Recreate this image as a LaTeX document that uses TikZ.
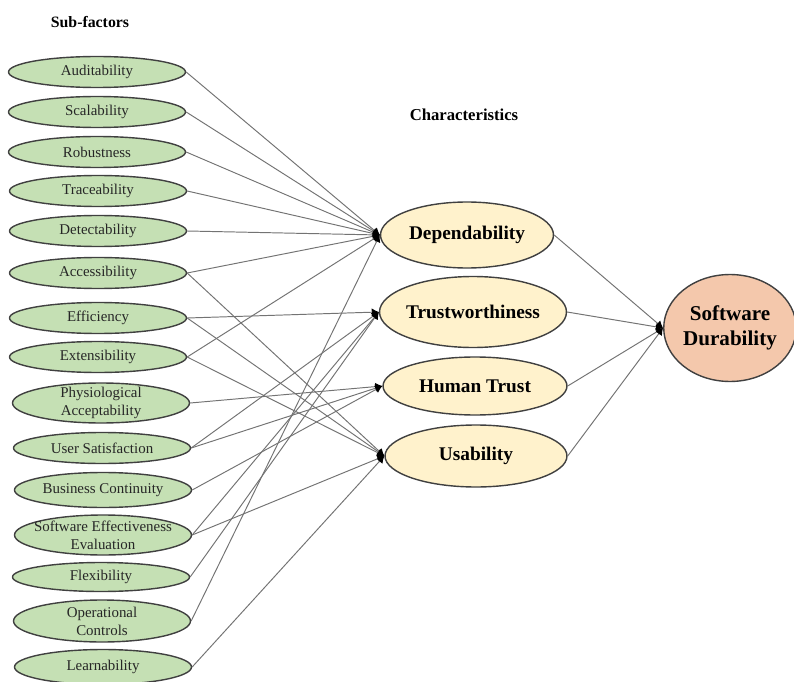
\documentclass[tikz,border=0pt]{standalone}
\usepackage{fontspec}
\setmainfont{Liberation Serif}
\usetikzlibrary{shapes.geometric, arrows.meta}
\definecolor{subgreen}{RGB}{197,224,180}
\definecolor{charyellow}{RGB}{255,242,204}
\definecolor{durorange}{RGB}{244,200,172}
\tikzstyle{subfactor} = [ellipse, draw=black!75, line width=0.8pt, fill=subgreen, minimum width=3.54cm, minimum height=0.62cm, inner xsep=-8pt, inner ysep=-4pt, align=center, font=\fontsize{8.5}{10.3}\selectfont, text=black!85]
\tikzstyle{charac} = [ellipse, draw=black!75, line width=0.8pt, fill=charyellow, minimum width=3.5cm, minimum height=1.2cm, inner sep=-4pt, font=\fontsize{11}{13}\selectfont\bfseries]
\tikzstyle{link} = [black!55, line width=0.55pt, -{Latex[black, length=4pt, width=4.5pt]}]

\begin{document}
\begin{tikzpicture}[x=0.02cm, y=-0.02cm]
    \useasboundingbox (0,0) rectangle (794,682);

    % Titles
    \node[font=\fontsize{9}{11}\selectfont\bfseries] (subtitle) at (90,22) {Sub-factors};
    \node[font=\fontsize{9.5}{11}\selectfont\bfseries] (chartitle) at (464,115) {Characteristics};

    % Sub-factors
    \node[subfactor] (auditability) at (97,72) {Auditability};
    \node[subfactor] (scalability) at (97,112) {Scalability};
    \node[subfactor] (robustness) at (97,152) {Robustness};
    \node[subfactor] (traceability) at (98,191) {Traceability};
    \node[subfactor] (detectability) at (98,231) {Detectability};
    \node[subfactor] (accessibility) at (98,273) {Accessibility};
    \node[subfactor] (efficiency) at (98,318) {Efficiency};
    \node[subfactor] (extensibility) at (98,357) {Extensibility};
    \node[subfactor, minimum height=0.8cm] (physio) at (101,403) {Physiological\\Acceptability};
    \node[subfactor] (usersat) at (102,448) {User Satisfaction};
    \node[subfactor, minimum height=0.7cm] (business) at (103,490) {Business Continuity};
    \node[subfactor, minimum height=0.8cm] (effective) at (103,535) {Software Effectiveness\\Evaluation};
    \node[subfactor, minimum height=0.58cm] (flexibility) at (101,577) {Flexibility};
    \node[subfactor, minimum height=0.84cm] (operational) at (102,621) {Operational\\Controls};
    \node[subfactor, minimum height=0.7cm] (learnability) at (103,667) {Learnability};

    % Characteristics
    \node[charac, minimum width=3.46cm, minimum height=1.32cm] (dependability) at (467,235) {Dependability};
    \node[charac, minimum width=3.74cm, minimum height=1.42cm] (trustworthiness) at (473,312) {Trustworthiness};
    \node[charac, minimum width=3.68cm, minimum height=1.16cm] (humantrust) at (475,386) {Human Trust};
    \node[charac, minimum width=3.64cm, minimum height=1.24cm] (usability) at (476,456) {Usability};

    % Goal
    \node[ellipse, draw=black!75, line width=0.8pt, fill=durorange, minimum width=2.56cm, minimum height=2.14cm, inner sep=0pt, align=center, font=\fontsize{12}{14.5}\selectfont\bfseries] (durability) at (730,328) {Software\\Durability};

    % Links to Dependability
    \draw[link] (auditability.east) -- (dependability.west);
    \draw[link] (scalability.east) -- (dependability.west);
    \draw[link] (robustness.east) -- (dependability.west);
    \draw[link] (traceability.east) -- (dependability.west);
    \draw[link] (detectability.east) -- (dependability.west);
    \draw[link] (accessibility.east) -- (dependability.west);
    \draw[link] (extensibility.east) -- (dependability.west);
    \draw[link] (operational.east) -- (dependability.west);

    % Links to Trustworthiness
    \draw[link] (efficiency.east) -- (trustworthiness.west);
    \draw[link] (usersat.east) -- (trustworthiness.west);
    \draw[link] (effective.east) -- (trustworthiness.west);
    \draw[link] (flexibility.east) -- (trustworthiness.west);

    % Links to Human Trust
    \draw[link] (physio.east) -- (humantrust.west);
    \draw[link] (usersat.east) -- (humantrust.west);
    \draw[link] (business.east) -- (humantrust.west);

    % Links to Usability
    \draw[link] (accessibility.east) -- (usability.west);
    \draw[link] (efficiency.east) -- (usability.west);
    \draw[link] (extensibility.east) -- (usability.west);
    \draw[link] (effective.east) -- (usability.west);
    \draw[link] (learnability.east) -- (usability.west);

    % Characteristics to Software Durability
    \draw[link] (dependability.east) -- (durability.west);
    \draw[link] (trustworthiness.east) -- (durability.west);
    \draw[link] (humantrust.east) -- (durability.west);
    \draw[link] (usability.east) -- (durability.west);

\end{tikzpicture}
\end{document}
